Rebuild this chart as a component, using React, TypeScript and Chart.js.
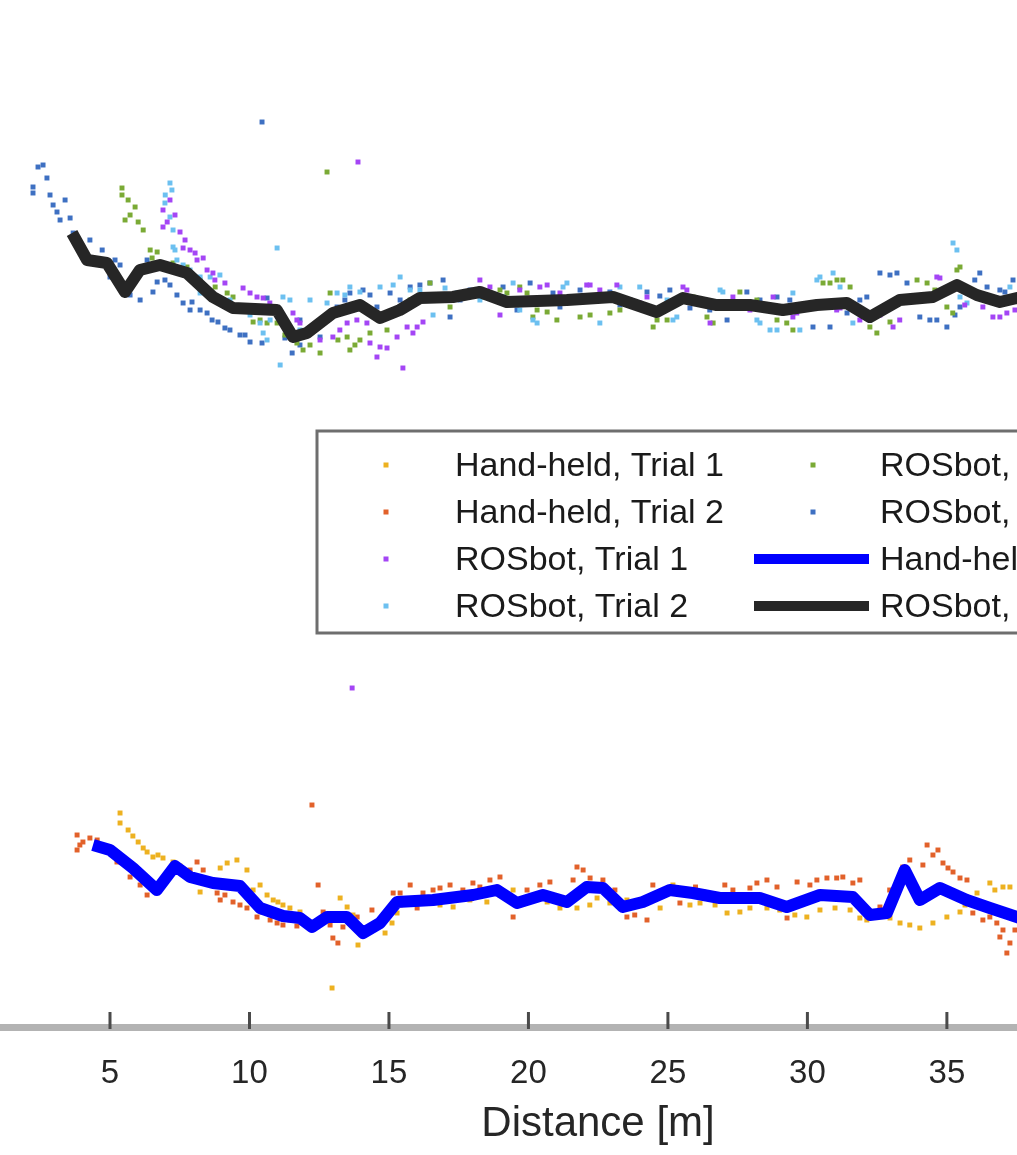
import React, { useEffect, useRef } from 'react';
import Chart from 'chart.js/auto';

// [distance (m), value]
const handTrial1: [number, number][] = [
    [5.36, 21.2], [5.36, 20.2], [5.65, 19.5], [5.82, 18.9], [6.01, 18.3], [6.19, 17.7], [6.33, 17.3],
    [6.54, 16.8], [6.72, 17.0], [6.9, 16.7], [7.26, 16.3], [7.51, 15.9], [8.23, 13.3], [8.59, 14.5],
    [8.95, 15.7], [9.2, 16.2], [9.55, 16.5], [9.91, 15.5], [10.13, 13.5], [10.38, 14.0], [10.63, 13.0],
    [10.85, 12.5], [11.02, 12.3], [11.2, 12.0], [11.45, 11.7], [11.81, 11.3], [12.96, 3.7], [13.25, 12.7],
    [13.5, 11.8], [13.71, 11.0], [13.89, 8.0], [14.14, 9.5], [14.86, 9.2], [15.11, 10.2], [15.29, 11.2],
    [15.4, 12.0], [16.11, 12.5], [16.83, 12.0], [17.3, 11.8], [17.9, 12.5], [18.51, 12.3], [18.98, 13.0],
    [19.45, 13.5], [20.06, 12.5], [20.67, 12.3], [21.13, 11.7], [21.74, 11.7], [22.2, 12.0], [22.46, 12.7],
    [22.92, 12.2], [23.53, 12.5], [23.99, 12.0], [24.72, 11.7], [25.18, 14.0], [25.79, 12.0], [26.15, 12.2],
    [26.69, 12.0], [27.12, 11.2], [27.58, 11.3], [27.94, 11.7], [28.55, 11.7], [29.01, 11.5], [29.55, 11.0],
    [29.98, 10.8], [30.45, 11.5], [30.99, 11.7], [31.53, 11.5], [31.88, 10.7], [32.13, 10.5], [32.6, 11.0],
    [32.96, 10.7], [33.32, 10.2], [33.67, 10.0], [34.03, 9.7], [34.5, 10.2], [35.0, 10.8], [35.47, 11.3],
    [35.65, 12.0], [36.08, 13.2], [36.54, 14.2], [36.72, 13.5], [37.01, 13.8], [37.26, 13.8],
];

const handTrial2: [number, number][] = [
    [3.82, 19.0], [3.82, 17.5], [3.92, 18.0], [4.03, 18.3], [4.28, 18.7], [4.54, 18.5], [5.25, 16.3],
    [5.72, 14.8], [6.08, 14.0], [6.33, 13.0], [7.87, 15.5], [8.12, 16.3], [8.34, 15.5], [8.59, 14.5],
    [8.84, 13.2], [8.95, 12.5], [9.12, 13.0], [9.41, 12.3], [9.66, 12.0], [9.91, 11.7], [10.27, 10.8],
    [10.45, 11.3], [10.74, 10.5], [10.99, 10.2], [11.2, 10.0], [11.45, 10.5], [11.7, 9.9], [12.24, 22.0],
    [12.46, 14.0], [12.64, 11.3], [12.89, 10.0], [12.99, 8.7], [13.17, 8.2], [13.35, 9.8], [13.86, 10.8],
    [14.39, 11.5], [15.15, 13.2], [15.4, 13.2], [15.76, 14.0], [16.01, 11.7], [16.22, 13.2], [16.58, 13.5],
    [16.83, 13.7], [17.19, 14.0], [17.65, 13.5], [18.01, 14.2], [18.26, 13.8], [18.62, 14.5], [18.98, 14.8],
    [19.45, 10.8], [19.95, 13.5], [20.41, 14.0], [20.77, 14.3], [21.6, 14.5], [21.74, 15.8], [21.96, 15.5],
    [22.21, 14.7], [22.67, 14.5], [23.1, 13.5], [23.53, 10.8], [23.81, 11.0], [24.25, 10.5], [24.46, 14.0],
    [25.1, 13.5], [25.43, 12.2], [25.99, 13.8], [26.26, 13.3], [27.04, 14.0], [27.33, 13.5], [27.94, 13.7],
    [28.19, 14.2], [28.55, 14.5], [28.91, 13.8], [29.27, 10.7], [29.63, 14.3], [30.09, 14.0], [30.34, 14.5],
    [30.7, 14.7], [31.05, 14.7], [31.27, 14.8], [31.63, 14.2], [31.88, 14.5], [32.6, 11.8], [32.95, 13.5],
    [33.42, 15.8], [33.67, 16.5], [34.14, 16.0], [34.29, 18.0], [34.5, 17.0], [34.68, 17.5], [34.86, 16.2],
    [35.04, 15.7], [35.22, 15.3], [35.47, 14.7], [35.72, 14.5], [35.93, 11.2], [36.11, 12.0], [36.29, 10.5],
    [36.54, 10.8], [36.79, 10.2], [36.9, 8.8], [37.01, 9.5], [37.15, 7.2], [37.26, 8.2], [37.44, 9.5],
];

const rosTrial1: [number, number][] = [
    [6.9, 81.5], [6.9, 79.8], [7.05, 80.3], [7.15, 82.5], [7.33, 81.0], [7.51, 79.3], [7.62, 77.7],
    [7.69, 78.5], [7.87, 77.5], [8.05, 77.2], [8.12, 76.5], [8.34, 76.7], [8.48, 75.5], [8.69, 75.2],
    [8.76, 74.5], [9.12, 74.2], [9.77, 73.7], [10.02, 73.2], [10.27, 72.8], [10.49, 72.7], [10.73, 72.2],
    [11.56, 71.2], [11.7, 70.5], [11.81, 70.2], [12.17, 69.5], [12.53, 68.5], [12.99, 68.8], [13.24, 69.5],
    [13.5, 70.2], [13.68, 33.7], [13.85, 70.5], [13.89, 86.3], [14.21, 70.2], [14.32, 68.2], [14.57, 66.8],
    [14.68, 67.8], [14.93, 67.7], [15.29, 68.8], [15.5, 65.7], [15.65, 69.8], [15.86, 69.2], [16.01, 69.8],
    [16.22, 70.3], [16.83, 72.5], [17.9, 73.0], [18.26, 74.5], [18.62, 73.8], [18.98, 71.0], [19.69, 73.5],
    [20.41, 73.8], [20.67, 74.0], [21.13, 73.2], [22.09, 74.0], [22.21, 74.0], [22.56, 73.5], [23.17, 74.0],
    [23.99, 72.2], [24.25, 72.8], [25.54, 73.8], [25.68, 73.5], [26.51, 70.2], [27.33, 72.8], [27.94, 71.5],
    [28.77, 72.8], [29.48, 70.8], [29.62, 71.2], [31.05, 71.5], [31.17, 71.7], [31.88, 70.5], [32.6, 71.0],
    [33.07, 69.8], [33.31, 70.5], [34.64, 74.8], [34.75, 74.7], [35.64, 72.0], [36.29, 71.8], [36.65, 70.8],
    [36.9, 70.8], [37.15, 71.2], [37.44, 71.5],
];

const rosTrial2: [number, number][] = [
    [7.15, 84.2], [7.22, 83.5], [6.98, 83.0], [6.97, 82.2], [7.15, 80.8], [7.26, 79.5], [7.26, 77.8],
    [7.33, 77.5], [7.4, 76.5], [7.62, 76.0], [7.87, 75.5], [8.23, 74.8], [8.59, 74.8], [8.94, 75.0],
    [8.23, 73.2], [9.3, 72.5], [10.02, 71.0], [10.38, 70.2], [10.49, 69.2], [10.63, 68.5], [10.74, 70.5],
    [10.99, 77.7], [11.1, 66.0], [11.2, 72.8], [11.45, 72.5], [11.81, 69.5], [12.17, 72.5], [12.78, 72.2],
    [13.14, 73.2], [13.42, 73.0], [13.6, 73.8], [13.96, 73.3], [14.68, 73.8], [15.15, 74.0], [15.4, 74.8],
    [15.76, 73.5], [16.11, 73.5], [16.58, 71.0], [17.01, 73.7], [17.44, 73.2], [18.26, 72.5], [18.98, 72.5],
    [19.09, 72.8], [19.45, 74.2], [19.69, 71.5], [20.16, 70.5], [20.31, 70.2], [21.24, 73.8], [21.38, 74.2],
    [21.96, 72.5], [22.56, 70.2], [23.28, 73.8], [23.99, 73.8], [24.97, 72.5], [25.18, 70.5], [25.32, 70.8],
    [26.87, 73.5], [26.97, 73.3], [28.19, 70.5], [28.3, 70.2], [28.66, 69.5], [28.91, 69.5], [29.48, 73.2],
    [29.73, 69.5], [30.34, 74.5], [30.45, 74.8], [30.92, 75.2], [31.17, 73.8], [31.63, 70.2], [32.24, 70.5],
    [32.96, 72.0], [35.22, 78.2], [35.36, 77.5], [35.47, 72.8], [35.72, 72.2], [36.36, 73.0], [37.26, 73.8],
];

const rosTrial3: [number, number][] = [
    [5.43, 83.7], [5.43, 83.0], [5.54, 80.5], [5.65, 82.5], [5.72, 81.0], [5.9, 81.8], [6.01, 80.3],
    [6.19, 79.5], [6.44, 77.5], [6.51, 76.7], [6.69, 77.3], [7.26, 76.2], [7.76, 75.8], [8.23, 74.5],
    [8.77, 73.8], [9.2, 73.2], [9.41, 72.8], [9.66, 71.5], [10.13, 70.3], [10.38, 70.5], [10.63, 70.2],
    [10.99, 70.2], [11.27, 69.0], [11.7, 68.2], [11.92, 67.5], [12.17, 68.0], [12.53, 67.2], [12.78, 85.3],
    [12.89, 73.2], [13.17, 68.5], [13.5, 68.8], [13.6, 67.5], [13.78, 68.0], [13.96, 68.5], [14.32, 69.2],
    [14.68, 70.5], [14.93, 69.5], [15.76, 72.5], [16.47, 74.2], [17.19, 71.8], [17.55, 73.0], [18.37, 72.8],
    [18.98, 73.5], [19.23, 73.2], [19.69, 73.8], [19.95, 73.2], [20.16, 70.8], [20.31, 71.5], [20.67, 71.3],
    [21.02, 70.5], [21.85, 70.8], [22.21, 71.0], [22.92, 71.2], [23.28, 71.5], [24.47, 69.8], [24.61, 70.5],
    [24.97, 70.5], [25.9, 72.8], [26.4, 70.8], [26.62, 70.2], [27.58, 73.3], [28.19, 72.5], [28.91, 70.5],
    [29.26, 70.2], [29.48, 69.5], [30.56, 74.2], [30.81, 74.2], [31.06, 74.5], [31.27, 74.5], [31.53, 73.8],
    [32.24, 69.8], [32.49, 69.2], [32.96, 70.3], [33.93, 74.5], [34.29, 74.2], [34.57, 73.5], [35.0, 71.8],
    [35.21, 71.2], [35.36, 75.5], [35.47, 75.8], [36.36, 72.7], [37.01, 72.2],
];

const rosTrial4: [number, number][] = [
    [2.24, 83.8], [2.24, 83.2], [2.42, 85.8], [2.6, 86.0], [2.74, 84.7], [2.85, 83.0], [2.96, 82.0],
    [3.1, 81.3], [3.21, 80.5], [3.39, 82.5], [3.57, 80.7], [3.68, 79.2], [4.28, 78.5], [4.72, 77.5],
    [5.0, 74.8], [5.18, 76.5], [5.36, 76.0], [5.72, 73.0], [6.08, 72.5], [6.33, 76.5], [6.54, 73.3],
    [6.69, 74.3], [6.97, 74.5], [7.15, 74.0], [7.4, 73.0], [7.62, 72.2], [7.87, 71.5], [7.94, 72.3],
    [8.23, 71.5], [8.48, 71.2], [8.66, 70.5], [8.87, 70.3], [9.12, 69.7], [9.3, 69.5], [9.66, 69.0],
    [9.84, 69.0], [10.02, 68.3], [10.45, 90.3], [10.45, 68.2], [10.63, 72.7], [11.27, 68.7], [11.53, 67.2],
    [11.81, 70.5], [11.81, 68.0], [12.17, 69.5], [12.53, 68.8], [12.71, 70.5], [13.14, 71.8], [13.42, 72.5],
    [13.6, 73.2], [14.07, 73.5], [14.32, 73.0], [14.57, 71.8], [15.04, 73.2], [15.4, 72.5], [15.76, 73.8],
    [16.11, 74.0], [16.47, 74.2], [16.94, 74.5], [17.19, 70.8], [17.55, 72.5], [17.91, 73.5], [18.26, 73.0],
    [18.62, 73.0], [19.09, 73.8], [19.59, 71.5], [20.06, 74.2], [20.41, 72.5], [20.88, 73.2], [21.13, 71.8],
    [21.85, 73.5], [22.92, 73.3], [23.28, 72.0], [23.64, 72.5], [24.25, 73.3], [24.71, 72.9], [25.07, 73.5],
    [25.79, 71.7], [26.15, 72.5], [26.5, 71.5], [27.12, 70.5], [27.83, 73.3], [28.3, 72.5], [28.91, 72.8],
    [29.37, 72.5], [30.2, 69.8], [30.81, 69.8], [31.42, 71.2], [31.88, 72.5], [32.13, 72.8], [32.6, 75.2],
    [32.96, 75.0], [33.21, 75.2], [33.57, 74.2], [34.03, 70.8], [34.39, 70.5], [34.64, 70.5], [35.0, 69.8],
    [35.29, 71.0], [35.47, 71.8], [36.0, 74.5], [36.18, 75.2], [36.44, 73.8], [36.9, 73.5], [37.08, 73.3],
    [37.37, 74.5],
];

const handMean: [number, number][] = [
    [4.39, 18.0], [5.0, 17.5], [5.82, 15.7], [6.68, 13.5], [7.33, 15.9], [7.87, 14.8], [8.69, 14.2],
    [9.66, 13.9], [10.38, 11.7], [11.2, 10.9], [11.81, 10.7], [12.24, 9.8], [12.78, 10.8], [13.49, 10.8],
    [14.07, 9.2], [14.68, 10.2], [15.29, 12.3], [16.58, 12.5], [18.01, 13.0], [18.87, 13.5], [19.59, 12.2],
    [20.52, 13.0], [21.38, 12.3], [22.09, 13.8], [22.67, 13.7], [23.38, 11.8], [24.1, 12.3], [25.07, 13.5],
    [25.89, 13.2], [26.86, 12.7], [28.29, 12.7], [29.26, 11.8], [30.45, 13.0], [31.63, 12.8], [32.24, 11.0],
    [32.85, 11.2], [33.49, 15.5], [34.03, 12.5], [34.75, 13.7], [35.71, 12.5], [36.54, 11.7], [37.51, 10.8],
    [38.33, 10.0],
];

const rosMean: [number, number][] = [
    [3.64, 79.2], [4.18, 76.5], [4.89, 76.2], [5.54, 73.3], [6.07, 75.5], [6.79, 76.0], [7.76, 75.2],
    [8.69, 72.8], [9.41, 71.7], [10.98, 71.5], [11.56, 68.8], [12.06, 69.2], [12.99, 71.2], [13.96, 72.0],
    [14.68, 70.7], [15.39, 71.5], [16.11, 72.7], [17.29, 72.8], [18.26, 73.3], [19.23, 72.3], [21.38, 72.5],
    [23.03, 72.8], [24.6, 71.3], [25.54, 72.7], [26.75, 72.0], [27.94, 72.0], [29.12, 71.5], [30.34, 72.0],
    [31.41, 72.2], [32.24, 70.8], [33.31, 72.5], [34.5, 72.8], [35.36, 74.0], [36.07, 73.0], [36.9, 72.3],
    [37.51, 72.7], [38.33, 72.5],
];

const seriesLabels = [
    'Hand-held, Trial 1', 'Hand-held, Trial 2', 'ROSbot, Trial 1', 'ROSbot, Trial 2',
    'ROSbot, Trial 3', 'ROSbot, Trial 4', 'Hand-held, Average', 'ROSbot, Average',
];
// the view is a crop of a wider axes: x runs on past the right edge
const xRange = [1.057, 43.93];
const yRange = [-0.2, 102.5];
const xTickStep = 5;
const xTitle = 'Distance [m]';

const FONT = '"Liberation Sans", Arial, Helvetica, sans-serif';

const toXY = (pts: [number, number][]) => pts.map(([x, y]) => ({ x, y }));

// MATLAB-style ticks pointing into the axes
const innerTicks = {
    id: 'innerTicks',
    afterDraw(chart: any) {
        const { ctx, chartArea } = chart;
        const scale = chart.scales.x;
        ctx.save();
        ctx.strokeStyle = '#4a4a4a';
        ctx.lineWidth = 3;
        scale.ticks.forEach((t: any) => {
            const px = scale.getPixelForValue(t.value);
            ctx.beginPath();
            ctx.moveTo(px, chartArea.bottom - 15);
            ctx.lineTo(px, chartArea.bottom + 2);
            ctx.stroke();
        });
        ctx.restore();
    },
};

// boxed two-column legend, wider than the visible crop
const boxLegend = {
    id: 'boxLegend',
    afterDraw(chart: any) {
        const { ctx } = chart;
        const left = 317, top = 431, width = 860, height = 202;
        ctx.save();
        ctx.fillStyle = '#ffffff';
        ctx.fillRect(left, top, width, height);
        ctx.strokeStyle = '#6e6e6e';
        ctx.lineWidth = 3;
        ctx.strokeRect(left, top, width, height);
        ctx.font = `34px ${FONT}`;
        ctx.textBaseline = 'middle';
        const rows = [465, 512, 559, 606];
        chart.data.datasets.forEach((ds: any, i: number) => {
            const col = Math.floor(i / 4);
            const y = rows[i % 4];
            const markX = col === 0 ? 386 : 813;
            const textX = col === 0 ? 455 : 880;
            if (ds.showLine) {
                ctx.strokeStyle = ds.borderColor;
                ctx.lineWidth = 10;
                ctx.beginPath();
                ctx.moveTo(754, y);
                ctx.lineTo(869, y);
                ctx.stroke();
            } else {
                ctx.fillStyle = ds.backgroundColor;
                ctx.fillRect(markX - 2.5, y - 2.5, 5, 5);
            }
            ctx.fillStyle = '#1a1a1a';
            ctx.fillText(ds.label, textX, y + 2);
        });
        ctx.restore();
    },
};

export default function App() {
    const chartRef = useRef<HTMLCanvasElement>(null);
    const chartInstance = useRef<Chart | null>(null);

    useEffect(() => {
        document.body.style.margin = '0';
        if (!chartRef.current) return;
        if (chartInstance.current) {
            chartInstance.current.destroy();
        }
        const ctx = chartRef.current.getContext('2d');
        if (!ctx) return;

        const scatterSet = (label: string, pts: [number, number][], color: string) => ({
            label,
            data: toXY(pts),
            backgroundColor: color,
            borderColor: color,
            pointStyle: 'rect',
            pointRadius: 3.5,
            pointBorderWidth: 0,
            showLine: false,
            order: 1,
        });
        const lineSet = (label: string, pts: [number, number][], color: string) => ({
            label,
            data: toXY(pts),
            borderColor: color,
            backgroundColor: color,
            borderWidth: 12,
            borderJoinStyle: 'round',
            pointRadius: 0,
            showLine: true,
            tension: 0,
            order: 0,
        });

        chartInstance.current = new Chart(ctx, {
            type: 'scatter',
            data: {
                datasets: [
                    scatterSet(seriesLabels[0], handTrial1, '#EDB120'),
                    scatterSet(seriesLabels[1], handTrial2, '#E2612A'),
                    scatterSet(seriesLabels[2], rosTrial1, '#A445F5'),
                    scatterSet(seriesLabels[3], rosTrial2, '#6CC0F0'),
                    scatterSet(seriesLabels[4], rosTrial3, '#7AAA35'),
                    scatterSet(seriesLabels[5], rosTrial4, '#3E70C2'),
                    lineSet(seriesLabels[6], handMean, '#0000FF'),
                    lineSet(seriesLabels[7], rosMean, '#262626'),
                ],
            },
            options: {
                responsive: true,
                maintainAspectRatio: false,
                animation: false,
                events: [],
                layout: { padding: 0, autoPadding: false },
                plugins: {
                    legend: { display: false },
                    tooltip: { enabled: false },
                },
                scales: {
                    x: {
                        type: 'linear',
                        min: xRange[0],
                        max: xRange[1],
                        afterFit: (scale: any) => {
                            scale.height = 128;
                        },
                        grid: { display: false, drawTicks: false },
                        border: { display: true, color: '#b3b3b3', width: 7 },
                        ticks: {
                            stepSize: xTickStep,
                            includeBounds: false,
                            autoSkip: false,
                            maxRotation: 0,
                            padding: 27,
                            color: '#262626',
                            font: { family: FONT, size: 33 },
                        },
                        title: {
                            display: true,
                            text: xTitle,
                            color: '#262626',
                            font: { family: FONT, size: 42 },
                            padding: { top: 0, bottom: 5 },
                        },
                    },
                    y: {
                        display: false,
                        min: yRange[0],
                        max: yRange[1],
                    },
                },
            } as any,
            plugins: [innerTicks, boxLegend],
        } as any);

        return () => {
            if (chartInstance.current) {
                chartInstance.current.destroy();
                chartInstance.current = null;
            }
        };
    }, []);

    return (
        <div style={{ width: 1017, height: 1155, overflow: 'hidden', background: '#ffffff' }}>
            <div style={{ position: 'relative', width: 1196, height: 1155 }}>
                <canvas ref={chartRef}></canvas>
            </div>
        </div>
    );
}
